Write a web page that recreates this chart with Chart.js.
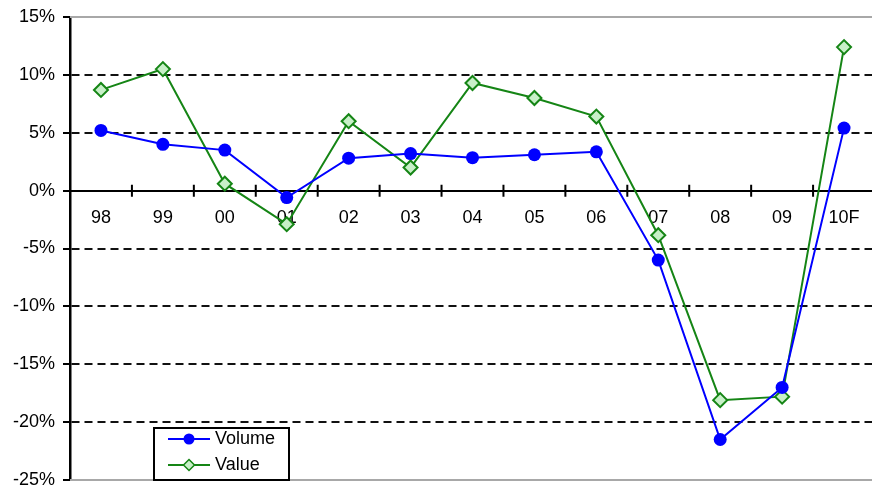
<!DOCTYPE html>
<html><head><meta charset="utf-8">
<script src="https://cdn.jsdelivr.net/npm/chart.js@4/dist/chart.umd.min.js"></script>
<style>
html,body{margin:0;padding:0;background:#fff;overflow:hidden;}
#wrap{position:relative;width:884px;height:489px;}
</style></head><body>
<div id="wrap"><canvas id="c" width="884" height="489"></canvas></div>
<script>
const categories = ['98','99','00','01','02','03','04','05','06','07','08','09','10F'];
const volume = [5.2, 4.0, 3.5, -0.6, 2.8, 3.2, 2.85, 3.1, 3.35, -6.0, -21.5, -17.0, 5.4];
const value  = [8.7, 10.5, 0.6, -2.9, 6.0, 2.0, 9.3, 8.0, 6.4, -3.85, -18.1, -17.8, 12.4];
const seriesNames = ['Volume', 'Value'];
const yMin = -25, yMax = 15, yStep = 5;

const FONT = 'Liberation Sans, Arial, sans-serif';
const BLUE = '#0000ff', GREEN = '#158515', LIGHTGREEN = '#c8f0c8';

const extras = {
  id: 'extras',
  beforeDatasetsDraw(chart) {
    const {ctx, chartArea: a, scales: {x, y}} = chart;
    ctx.save();
    ctx.strokeStyle = '#a8a8a8'; ctx.lineWidth = 2;
    ctx.beginPath();
    ctx.moveTo(a.left, a.top); ctx.lineTo(a.right, a.top);
    ctx.moveTo(a.left, a.bottom); ctx.lineTo(a.right, a.bottom);
    ctx.stroke();
    const y0 = y.getPixelForValue(0);
    ctx.strokeStyle = '#000'; ctx.lineWidth = 2;
    ctx.beginPath();
    for (let i = 1; i < categories.length; i++) {
      const bx = (x.getPixelForValue(i - 1) + x.getPixelForValue(i)) / 2;
      ctx.moveTo(bx, y0 - 6); ctx.lineTo(bx, y0 + 6);
    }
    ctx.stroke();
    ctx.restore();
  },
  afterDraw(chart) {
    const {ctx} = chart;
    const bx = 154, by = 428, bw = 135, bh = 52;
    ctx.save();
    ctx.fillStyle = '#fff';
    ctx.fillRect(bx, by, bw, bh);
    ctx.strokeStyle = '#000'; ctx.lineWidth = 2;
    ctx.strokeRect(bx, by, bw, bh);
    const rows = [
      {name: seriesNames[0], y: by + 11, color: BLUE, shape: 'circle'},
      {name: seriesNames[1], y: by + 37, color: GREEN, shape: 'diamond'}
    ];
    rows.forEach(r => {
      ctx.strokeStyle = r.color; ctx.lineWidth = 2;
      ctx.beginPath(); ctx.moveTo(bx + 14, r.y); ctx.lineTo(bx + 56, r.y); ctx.stroke();
      const cx = bx + 35;
      if (r.shape === 'circle') {
        ctx.fillStyle = BLUE;
        ctx.beginPath(); ctx.arc(cx, r.y, 5.5, 0, Math.PI * 2); ctx.fill();
      } else {
        ctx.fillStyle = LIGHTGREEN; ctx.lineWidth = 1.5;
        ctx.beginPath();
        ctx.moveTo(cx, r.y - 5.5); ctx.lineTo(cx + 5.5, r.y); ctx.lineTo(cx, r.y + 5.5); ctx.lineTo(cx - 5.5, r.y);
        ctx.closePath(); ctx.fill(); ctx.stroke();
      }
      ctx.fillStyle = '#000';
      ctx.font = '18px ' + FONT;
      ctx.textBaseline = 'middle'; ctx.textAlign = 'left';
      ctx.fillText(r.name, bx + 61, r.y);
    });
    ctx.restore();
  }
};

new Chart(document.getElementById('c'), {
  type: 'line',
  data: {
    labels: categories,
    datasets: [
      {label: seriesNames[0], data: volume, borderColor: BLUE, backgroundColor: BLUE,
       borderWidth: 2, pointStyle: 'circle', pointRadius: 6.5, pointBorderWidth: 0,
       pointBackgroundColor: BLUE, tension: 0},
      {label: seriesNames[1], data: value, borderColor: GREEN, backgroundColor: LIGHTGREEN,
       borderWidth: 2, pointStyle: 'rectRot', pointRadius: 7, pointBorderWidth: 2,
       pointBorderColor: GREEN, pointBackgroundColor: LIGHTGREEN, tension: 0}
    ]
  },
  options: {
    responsive: false,
    animation: false,
    devicePixelRatio: 1,
    layout: {padding: {top: 17, bottom: 9, left: 0, right: 0}},
    plugins: {legend: {display: false}, tooltip: {enabled: false}},
    scales: {
      x: {
        type: 'category',
        offset: true,
        position: {y: 0},
        grid: {display: false},
        border: {display: true, color: '#000', width: 2},
        ticks: {color: '#000', font: {family: FONT, size: 18}, padding: 9, maxRotation: 0, autoSkip: false}
      },
      y: {
        min: yMin, max: yMax,
        afterFit(scale) { scale.width = 70; scale.paddingTop = 0; scale.paddingBottom = 0; },
        border: {display: true, color: '#000', width: 2.5, dash: [8, 5]},
        grid: {
          color: (c) => (c.tick && (c.tick.value === yMax || c.tick.value === yMin || c.tick.value === 0)) ? 'rgba(0,0,0,0)' : '#111',
          lineWidth: 2,
          tickColor: '#000',
          tickLength: 7,
          tickBorderDash: []
        },
        ticks: {stepSize: yStep, color: '#000', padding: 8,
          font: {family: FONT, size: 18},
          callback: (v) => v + '%'}
      }
    }
  },
  plugins: [extras]
});
</script>
</body></html>
